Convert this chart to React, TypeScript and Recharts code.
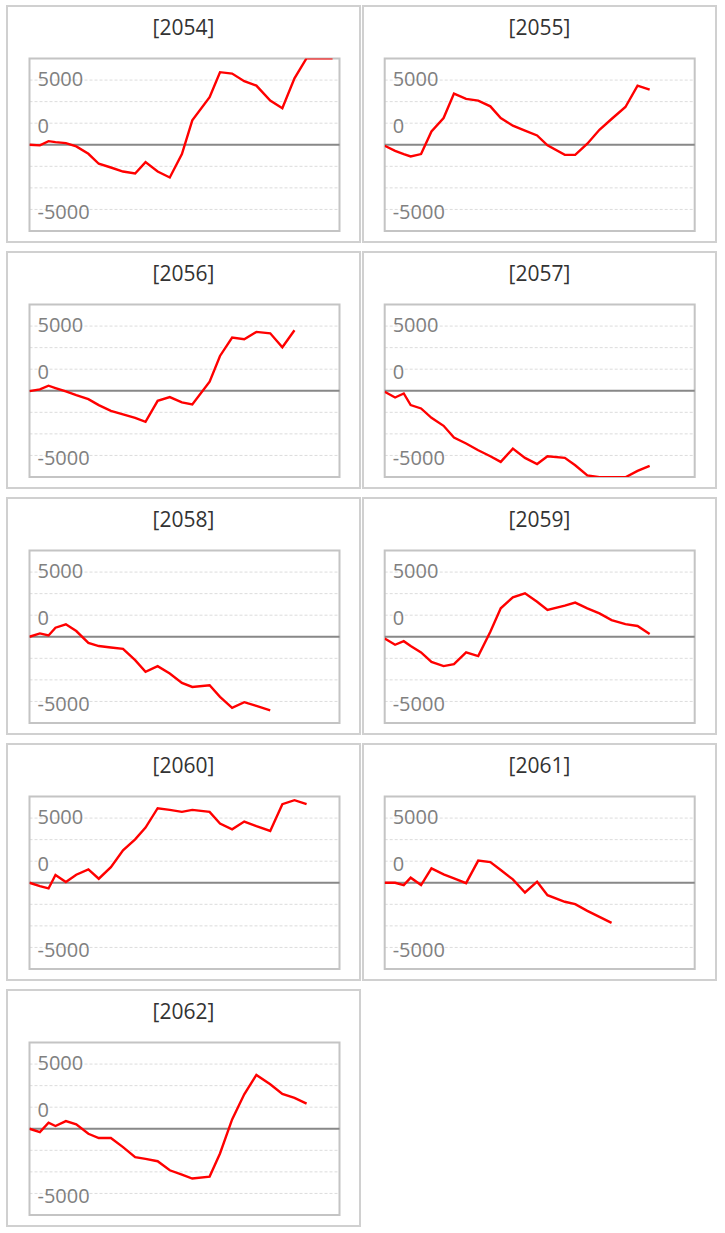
import { LineChart, Line, XAxis, YAxis, CartesianGrid, ReferenceLine, ReferenceArea } from 'recharts';

// x positions (days from start), shared by every panel
const days = [0, 6, 11, 15, 21, 27, 34, 40, 47, 54, 61, 67, 74, 81, 88, 94, 104, 110, 117, 124, 131, 139, 146, 153, 160, 167, 175];

const codes = ['[2054]', '[2055]', '[2056]', '[2057]', '[2058]', '[2059]', '[2060]', '[2061]', '[2062]'];

const s2054 = [0, -50, 280, 200, 130, -130, -700, -1470, -1760, -2070, -2220, -1340, -2070, -2530, -720, 1890, 3670, 5610, 5500, 4910, 4570, 3410, 2820, 5140, 6690, 6690, 6690];
const s2055 = [-80, -470, -720, -900, -720, 1030, 2070, 3950, 3540, 3410, 2970, 2070, 1470, 1090, 720, -50, -780, -780, 80, 1160, 1990, 2920, 4570, 4260, null, null, null];
const s2056 = [-30, 100, 390, 210, -50, -340, -650, -1110, -1550, -1830, -2090, -2400, -780, -490, -900, -1060, 700, 2690, 4110, 3980, 4550, 4440, 3360, 4680, null, null, null];
const s2057 = [-80, -520, -210, -1110, -1370, -2090, -2710, -3620, -4080, -4600, -5060, -5500, -4470, -5190, -5660, -5060, -5190, -5760, -6540, -6690, -6690, -6690, -6200, -5810, null, null, null];
const s2058 = [0, 260, 100, 700, 960, 440, -470, -720, -830, -930, -1810, -2710, -2270, -2840, -3570, -3880, -3750, -4650, -5500, -5060, -5350, -5690, null, null, null, null, null];
const s2059 = [-130, -620, -340, -720, -1210, -1940, -2270, -2120, -1210, -1500, 390, 2200, 3050, 3360, 2710, 2070, 2400, 2640, 2200, 1810, 1290, 980, 830, 210, null, null, null];
const s2060 = [0, -260, -440, 600, 50, 620, 1030, 310, 1210, 2510, 3360, 4260, 5760, 5630, 5480, 5630, 5480, 4570, 4130, 4730, 4370, 4000, 6070, 6380, 6070, null, null];
const s2061 = [0, 0, -180, 390, -180, 1110, 650, 340, -30, 1710, 1600, 980, 260, -750, 80, -960, -1470, -1650, -2170, -2640, -3100, null, null, null, null, null, null];
const s2062 = [0, -260, 470, 210, 590, 340, -390, -720, -720, -1420, -2200, -2330, -2510, -3210, -3540, -3850, -3700, -1910, 720, 2660, 4160, 3440, 2690, 2380, 1940, null, null];

const seriesList = [s2054, s2055, s2056, s2057, s2058, s2059, s2060, s2061, s2062];

// gridlines and the (odd) labels the original shows on them
const gridTicks = [-5000, -3333, -1667, 0, 1667, 3333, 5000];
const tickLabels = ['-5000', '', '', '', '0', '', '5000'];

const xDomain = [0, 179];
const yDomain = [-6667, 6667];

const FONT = '"Open Sans", sans-serif';

const renderYTick = (props: any) => {
  const { x, y, payload } = props;
  const label = tickLabels[gridTicks.indexOf(payload.value)];
  if (!label) return <g />;
  return (
    <text x={x + 8} y={y} dy={label === '5000' ? 6 : 10} textAnchor="start" fill="#808080" fontSize={20} fontFamily={FONT}>
      {label}
    </text>
  );
};

function Panel({ title, values, left, top, col }: { title: string; values: (number | null)[]; left: number; top: number; col: number }) {
  const data = days.map((d, i) => ({ day: d, v: values[i] }));
  const margin = col === 0 ? { top: 51.5, right: 19.5, bottom: 10, left: 20.5 } : { top: 51.5, right: 20.3, bottom: 10, left: 19.7 };
  return (
    <div
      style={{
        position: 'absolute',
        left,
        top,
        width: 355,
        height: 238,
        border: '2px solid #d0d0d0',
        boxSizing: 'border-box',
        background: '#fff',
      }}
    >
      <div
        style={{
          position: 'absolute',
          left: 0,
          right: 0,
          top: 6,
          lineHeight: '28px',
          textAlign: 'center',
          fontFamily: FONT,
          fontSize: 21,
          color: '#333',
        }}
      >
        {title}
      </div>
      <div style={{ position: 'absolute', left: 0, top: 0 }}>
        <LineChart width={351} height={234} data={data} margin={margin}>
          <CartesianGrid vertical={false} stroke="#dcdcdc" strokeDasharray="3 2" />
          <XAxis type="number" dataKey="day" domain={xDomain} hide allowDataOverflow />
          <YAxis
            type="number"
            domain={yDomain}
            ticks={gridTicks}
            interval={0}
            width={1}
            tickSize={0}
            tickMargin={0}
            axisLine={false}
            tickLine={false}
            tick={renderYTick}
            allowDataOverflow
          />
          <ReferenceArea x1={xDomain[0]} x2={xDomain[1]} y1={yDomain[0]} y2={yDomain[1]} fill="none" stroke="#c4c4c4" strokeWidth={2} />
          <ReferenceLine y={0} stroke="#888" strokeWidth={2} />
          <Line type="linear" dataKey="v" stroke="#ff0000" strokeWidth={2.4} dot={false} isAnimationActive={false} />
        </LineChart>
      </div>
    </div>
  );
}

export default function App() {
  return (
    <div style={{ position: 'absolute', left: 0, top: 0, width: 725, height: 1233, background: '#fff' }}>
      {seriesList.map((s, i) => {
        const col = i % 2;
        const row = Math.floor(i / 2);
        return <Panel key={codes[i]} title={codes[i]} values={s} col={col} left={col === 0 ? 6 : 362} top={5 + row * 246} />;
      })}
    </div>
  );
}
